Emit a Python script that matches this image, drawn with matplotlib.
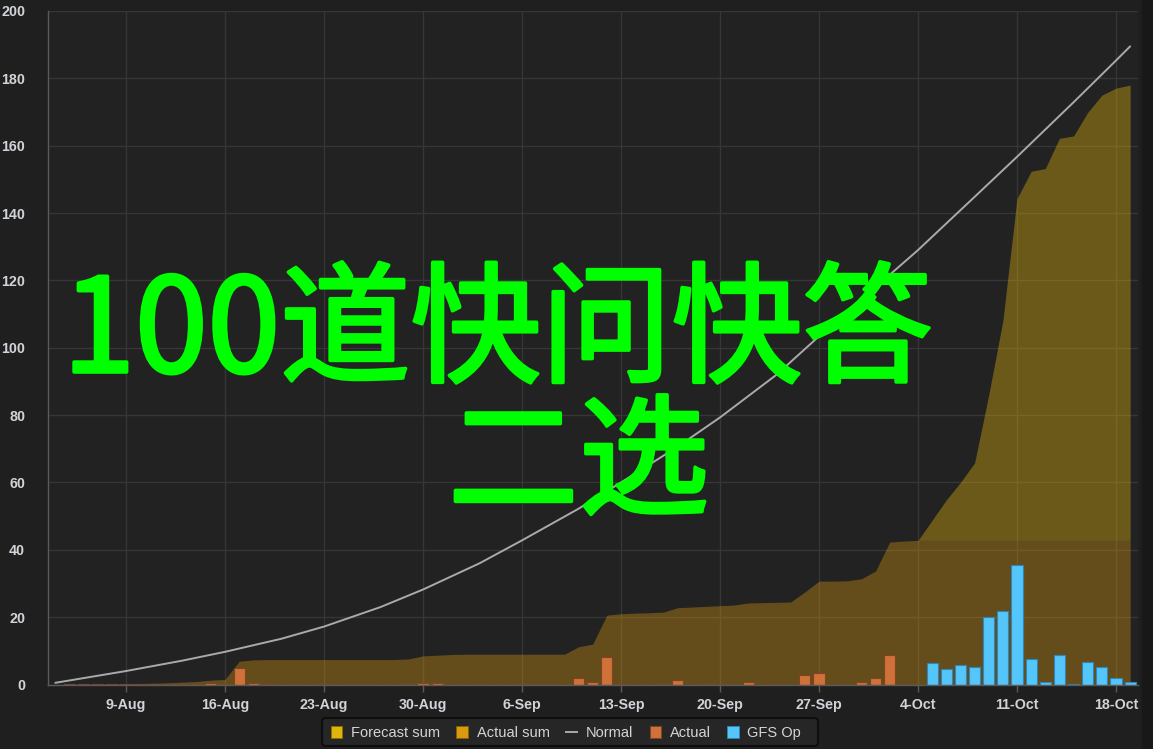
import matplotlib
matplotlib.use('Agg')
import matplotlib.pyplot as plt
import matplotlib.dates as mdates
import matplotlib.patheffects as pe
import numpy as np
import pandas as pd
from matplotlib.patches import Patch, Rectangle, FancyBboxPatch
from matplotlib.lines import Line2D

# ---------------- data ----------------
start_date = '2023-08-04'          # first day of the record
end_date = '2023-10-19'            # last day of the forecast
actual_end = '2023-10-04'          # last observed day

# daily observed values, Aug 4 .. Oct 4
actual_bars = [0, 0.05, 0.05, 0.05, 0.05, 0.05, 0.05, 0.1, 0.1, 0.2,      # Aug 4-13
               0.2, 0.4, 0.2, 5.0, 0.4, 0.1,                              # Aug 14-19
               0, 0, 0, 0, 0, 0, 0, 0, 0,                                 # Aug 20-28
               0.1, 0.4, 0.3,                                             # Aug 29-31
               0, 0, 0, 0, 0, 0, 0, 0, 0,                                 # Sep 1-9
               2.0, 0.6, 8.2, 0.2, 0, 0, 0.2, 1.3, 0, 0.2, 0, 0, 0.8,     # Sep 10-22
               0, 0, 0, 2.9, 3.4, 0, 0, 0.6,                              # Sep 23-30
               2.0, 8.7, 0, 0]                                            # Oct 1-4

# GFS Op daily forecast, Oct 5 .. Oct 19
gfs_bars = [6.3, 4.7, 5.9, 5.1, 20.0, 21.8, 35.6, 7.6, 0.6, 8.9, 0.2, 6.8, 5.1, 1.9, 0.6]

# Actual sum, Aug 4 .. Oct 19
actual_sum = [0, 0.05, 0.1, 0.15, 0.2, 0.25, 0.3, 0.4, 0.5, 0.7, 0.9, 1.3, 1.5,   # Aug 4-16
              6.9, 7.3, 7.4,                                                     # Aug 17-19
              7.4, 7.4, 7.4, 7.4, 7.4, 7.4, 7.4, 7.4, 7.4,                       # Aug 20-28
              7.6, 8.5, 8.7,                                                     # Aug 29-31
              8.9, 9.0, 9.0, 9.0, 9.0, 9.0, 9.0, 9.0, 9.0,                       # Sep 1-9
              11.2, 12.0, 20.6, 21.0, 21.2, 21.3, 21.5, 22.8, 23.0, 23.2, 23.4,  # Sep 10-20
              23.6, 24.2, 24.3, 24.4, 24.5, 27.5, 30.7, 30.7, 30.8, 31.4,        # Sep 21-30
              33.7, 42.3, 42.6, 42.8,                                            # Oct 1-4
              42.8, 42.8, 42.8, 42.8, 42.8, 42.8, 42.8, 42.8, 42.8, 42.8,        # Oct 5-14
              42.8, 42.8, 42.8, 42.8, 42.8]                                      # Oct 15-19

# Forecast sum, Oct 4 .. Oct 19
forecast_sum = [42.8, 48.8, 54.8, 60.0, 65.8, 86.0, 108.0, 144.3, 152.4, 153.2,
                162.2, 162.9, 169.9, 175.0, 177.1, 178.0]

# Normal (cumulative), sampled dates
normal_dates = ['2023-08-04', '2023-08-09', '2023-08-13', '2023-08-16', '2023-08-20',
                '2023-08-23', '2023-08-27', '2023-08-30', '2023-09-03', '2023-09-06',
                '2023-09-10', '2023-09-13', '2023-09-17', '2023-09-20', '2023-09-24',
                '2023-09-27', '2023-10-01', '2023-10-04', '2023-10-08', '2023-10-11',
                '2023-10-15', '2023-10-18', '2023-10-19']
normal_vals = [0.5, 4.0, 7.1, 9.7, 13.6, 17.2, 23.0, 28.2, 36.0, 42.8, 52.2, 60.0,
               70.6, 79.3, 92.0, 103.4, 118.0, 129.0, 144.8, 156.7, 172.9, 185.3, 189.5]

tick_dates = ['2023-08-09', '2023-08-16', '2023-08-23', '2023-08-30', '2023-09-06',
              '2023-09-13', '2023-09-20', '2023-09-27', '2023-10-04', '2023-10-11',
              '2023-10-18']
tick_labels = ['9-Aug', '16-Aug', '23-Aug', '30-Aug', '6-Sep', '13-Sep', '20-Sep',
               '27-Sep', '4-Oct', '11-Oct', '18-Oct']
y_ticks = [0, 20, 40, 60, 80, 100, 120, 140, 160, 180, 200]

legend_labels = ['Forecast sum', 'Actual sum', 'Normal', 'Actual', 'GFS Op']
overlay_line1 = '100道快问快答'
overlay_line2 = '二选'

# ---------------- style ----------------
W, H = 1153, 749
FIG_BG = '#1f1f1f'
AX_BG = '#222222'
GRID = '#363636'
SPINE = '#5a5a5a'
LABEL = '#d0d3d8'
C_FORE = '#e0b40b'
C_ACT_SUM = '#da9a10'
C_ACT = '#cf7139'
C_ACT_EDGE = '#7e4424'
C_GFS = '#55c6fa'
C_GFS_EDGE = '#2f86b8'
C_NORMAL = '#aaaaaa'
C_OVERLAY = '#00ff00'
FONT = ['Liberation Sans', 'DejaVu Sans']

plt.rcParams['font.family'] = FONT

all_days = pd.date_range(start_date, end_date)
act_days = pd.date_range(start_date, actual_end)
fc_days = pd.date_range(actual_end, end_date)
gfs_days = fc_days[1:]

fig = plt.figure(figsize=(W / 100, H / 100), dpi=100, facecolor=FIG_BG)
left_px, right_px, top_px, bottom_px = 48, 1138, 11, 684.5
ax = fig.add_axes([left_px / W, 1 - bottom_px / H, (right_px - left_px) / W, (bottom_px - top_px) / H])
ax.set_facecolor(AX_BG)

# right dark strip
fig.patches.append(Rectangle((1142 / W, 0), 11 / W, 1, transform=fig.transFigure,
                             color='#181818', zorder=-1))

# areas
x_all = mdates.date2num(all_days)
x_fc = mdates.date2num(fc_days)
act_sum_arr = np.array(actual_sum)
ax.fill_between(x_all, 0, act_sum_arr, color=C_ACT_SUM, alpha=0.36, lw=0, zorder=2)
base_fc = act_sum_arr[len(act_days) - 1:]
ax.fill_between(x_fc, base_fc, forecast_sum, color=C_FORE, alpha=0.38, lw=0, zorder=2)

# normal line
ax.plot(mdates.date2num(pd.to_datetime(normal_dates)), normal_vals, color=C_NORMAL,
        lw=1.4, zorder=4, solid_capstyle='round')

# bars
ax.bar(mdates.date2num(act_days), actual_bars, width=0.78, color=C_ACT,
       edgecolor=C_ACT_EDGE, linewidth=0.8, zorder=3)
ax.bar(mdates.date2num(gfs_days), gfs_bars, width=0.78, color=C_GFS,
       edgecolor=C_GFS_EDGE, linewidth=0.8, zorder=3)

# axes limits
px_per_day = 99 / 7.0
first_tick = mdates.date2num(pd.Timestamp(tick_dates[0]))
x0 = first_tick - (126 - left_px) / px_per_day
x1 = first_tick + (right_px - 126) / px_per_day
ax.set_xlim(x0, x1)
ax.set_ylim(0, 200)

ax.set_xticks(mdates.date2num(pd.to_datetime(tick_dates)))
ax.set_xticklabels(tick_labels)
ax.set_yticks(y_ticks)
ax.set_yticklabels([str(v) for v in y_ticks])

ax.grid(True, color=GRID, lw=1, zorder=0)
ax.set_axisbelow(True)
for s in ['top', 'right']:
    ax.spines[s].set_visible(False)
for s in ['left', 'bottom']:
    ax.spines[s].set_color(SPINE)
    ax.spines[s].set_linewidth(1)
    ax.spines[s].set_zorder(5)

ax.tick_params(axis='x', colors=SPINE, length=5, width=1, pad=5,
               labelcolor=LABEL, labelsize=10.3)
ax.tick_params(axis='y', length=0, pad=16.5, labelcolor=LABEL, labelsize=10.3)
for lab in ax.get_xticklabels() + ax.get_yticklabels():
    lab.set_fontweight('bold')

# legend box (drawn separately so its padding matches)
box_l, box_r, box_t, box_b = 322, 818, 718, 746
fig.patches.append(FancyBboxPatch((box_l / W, 1 - box_b / H), (box_r - box_l) / W,
                                  (box_b - box_t) / H,
                                  boxstyle='round,pad=0,rounding_size=0.004',
                                  transform=fig.transFigure, facecolor='#262626',
                                  edgecolor='#0e0e0e', lw=1.5, zorder=1))

handles = [Patch(facecolor=C_FORE, edgecolor='#8a6e00', lw=0.6),
           Patch(facecolor=C_ACT_SUM, edgecolor='#8a6000', lw=0.6),
           Line2D([0], [0], color=C_NORMAL, lw=1.4),
           Patch(facecolor=C_ACT, edgecolor=C_ACT_EDGE, lw=0.6),
           Patch(facecolor=C_GFS, edgecolor=C_GFS_EDGE, lw=0.6)]
leg = fig.legend(handles, legend_labels, loc='center', ncol=5,
                 bbox_to_anchor=(566 / W, 1 - 733 / H), frameon=False,
                 fontsize=10.5, handlelength=0.8, handleheight=0.8,
                 handletextpad=0.6, columnspacing=1.1, borderpad=0.3,
                 labelcolor='#d5d5d5')
leg.set_zorder(2)

# overlay text
cjk = ['Noto Sans CJK SC', 'DejaVu Sans']
thick = [pe.withStroke(linewidth=2.6, foreground=C_OVERLAY)]
fig.text(497.5 / W, 1 - 372 / H, overlay_line1, color=C_OVERLAY, fontsize=94,
         fontweight='normal', family=cjk, ha='center', va='baseline', zorder=10,
         path_effects=thick)
fig.text(578.5 / W, 1 - 504 / H, overlay_line2, color=C_OVERLAY, fontsize=94,
         fontweight='normal', family=cjk, ha='center', va='baseline', zorder=10,
         path_effects=thick)

fig.savefig('out.png', dpi=100, facecolor=FIG_BG)
